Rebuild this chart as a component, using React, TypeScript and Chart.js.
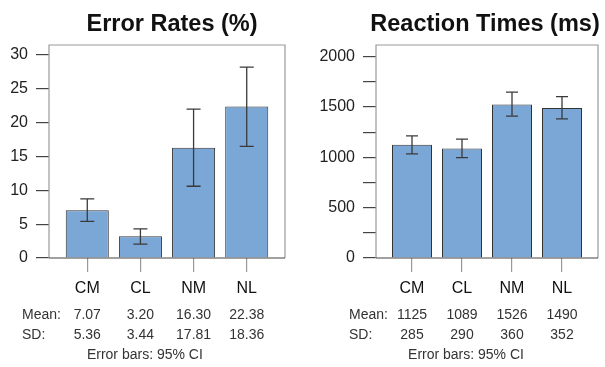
import React, { useEffect, useRef } from "react";
import { Chart, registerables } from "chart.js";

Chart.register(...registerables);

const categories = ["CM", "CL", "NM", "NL"];

const errorMeans = [7.07, 3.2, 16.3, 22.38];
const errorSD = [5.36, 3.44, 17.81, 18.36];
const errorLower = [5.4, 2.06, 10.6, 16.5];
const errorUpper = [8.75, 4.3, 22.0, 28.2];
const errorTicks = [0, 5, 10, 15, 20, 25, 30];

const rtMeans = [1125, 1089, 1526, 1490];
const rtSD = [285, 290, 360, 352];
const rtLower = [1035, 998, 1409, 1382];
const rtUpper = [1213, 1180, 1647, 1604];
const rtTicks = [0, 250, 500, 750, 1000, 1250, 1500, 1750, 2000];
const rtLabelStep = 500;

const FONT = "'Liberation Sans', Arial, Helvetica, sans-serif";

type PanelProps = {
  title: string;
  means: number[];
  sds: number[];
  lower: number[];
  upper: number[];
  ticks: number[];
  labelStep: number;
  yMax: number;
  decimals: number;
  width: number;
  height: number;
  leftW: number;
  rightPad: number;
  capHalf: number;
  barPct: number;
  titleDx: number;
};

function Panel(p: PanelProps) {
  const ref = useRef<HTMLCanvasElement | null>(null);
  useEffect(() => {
    if (!ref.current) return;
    const overlay = {
      id: "overlay",
      afterDatasetsDraw(chart: any) {
        const ctx = chart.ctx;
        const xs = chart.scales.x;
        const ys = chart.scales.y;
        const ca = chart.chartArea;
        ctx.save();
        ctx.strokeStyle = "#3a3a3a";
        ctx.lineWidth = 1.3;
        for (let i = 0; i < p.means.length; i++) {
          const x = xs.getPixelForValue(i);
          const yl = ys.getPixelForValue(p.lower[i]);
          const yu = ys.getPixelForValue(p.upper[i]);
          ctx.beginPath();
          ctx.moveTo(x, yl);
          ctx.lineTo(x, yu);
          ctx.moveTo(x - p.capHalf, yl);
          ctx.lineTo(x + p.capHalf, yl);
          ctx.moveTo(x - p.capHalf, yu);
          ctx.lineTo(x + p.capHalf, yu);
          ctx.stroke();
        }
        ctx.strokeStyle = "#9a9a9a";
        ctx.lineWidth = 1.2;
        ctx.beginPath();
        ctx.moveTo(ca.left, ca.bottom);
        ctx.lineTo(ca.left, ca.top);
        ctx.lineTo(ca.right, ca.top);
        ctx.lineTo(ca.right, ca.bottom);
        ctx.stroke();
        ctx.strokeStyle = "#444";
        ctx.beginPath();
        ctx.moveTo(ca.left, ca.bottom);
        ctx.lineTo(ca.right, ca.bottom);
        ctx.stroke();
        ctx.restore();
      },
      afterDraw(chart: any) {
        const ctx = chart.ctx;
        const xs = chart.scales.x;
        const ca = chart.chartArea;
        ctx.save();
        ctx.fillStyle = "#111";
        ctx.font = `bold 23.5px ${FONT}`;
        ctx.textAlign = "center";
        ctx.textBaseline = "alphabetic";
        ctx.fillText(p.title, (ca.left + ca.right) / 2 + p.titleDx, 31);
        ctx.font = `14px ${FONT}`;
        ctx.fillStyle = "#333";
        const labelX = ca.left - 27;
        ctx.textAlign = "left";
        ctx.fillText("Mean:", labelX, 319);
        ctx.fillText("SD:", labelX, 339);
        ctx.textAlign = "center";
        for (let i = 0; i < p.means.length; i++) {
          const x = xs.getPixelForValue(i);
          ctx.fillText(p.means[i].toFixed(p.decimals), x, 319);
          ctx.fillText(p.sds[i].toFixed(p.decimals), x, 339);
        }
        const lastRight = xs.getPixelForValue(p.means.length - 1) + 21;
        ctx.fillText("Error bars: 95% CI", (labelX + lastRight) / 2, 359);
        ctx.restore();
      },
    };
    const chart = new Chart(ref.current, {
      type: "bar",
      data: {
        datasets: [
          {
            data: p.means.map((v, i) => ({ x: i, y: v })),
            backgroundColor: "#7ba7d6",
            borderColor: "#333",
            borderWidth: 1,
            barPercentage: p.barPct,
            categoryPercentage: 1,
          },
        ],
      },
      options: {
        responsive: false,
        animation: false,
        layout: { padding: { top: 45, right: p.rightPad, left: 0, bottom: 0 } },
        plugins: { legend: { display: false }, tooltip: { enabled: false }, title: { display: false } },
        scales: {
          x: {
            type: "linear",
            min: -0.72,
            max: 3.72,
            offset: false,
            afterBuildTicks: (s: any) => {
              s.ticks = categories.map((_, i) => ({ value: i }));
            },
            afterFit: (s: any) => {
              s.height = p.height - 258;
            },
            ticks: {
              callback: (v: any) => categories[v as number] ?? "",
              font: { family: FONT, size: 16 },
              color: "#111",
              padding: 7,
              maxRotation: 0,
              autoSkip: false,
            },
            grid: { offset: false, drawOnChartArea: false, drawTicks: true, tickLength: 14, color: "#999", lineWidth: 1.2 },
            border: { display: false },
          },
          y: {
            min: 0,
            max: p.yMax,
            afterBuildTicks: (s: any) => {
              s.ticks = p.ticks.map((v) => ({ value: v }));
            },
            afterFit: (s: any) => {
              s.width = p.leftW;
            },
            ticks: {
              callback: (v: any) => ((v as number) % p.labelStep === 0 ? String(v) : ""),
              font: { family: FONT, size: 16 },
              color: "#222",
              padding: 8,
              autoSkip: false,
            },
            grid: { drawOnChartArea: false, drawTicks: true, tickLength: 13, color: "#444", lineWidth: 1.2 },
            border: { display: false },
          },
        },
      },
      plugins: [overlay],
    } as any);
    return () => chart.destroy();
  }, []);
  return <canvas ref={ref} width={p.width} height={p.height} style={{ display: "block" }} />;
}

export default function App() {
  return (
    <div style={{ position: "fixed", left: 0, top: 0, display: "flex", background: "#fff" }}>
      <Panel
        title="Error Rates (%)"
        means={errorMeans}
        sds={errorSD}
        lower={errorLower}
        upper={errorUpper}
        ticks={errorTicks}
        labelStep={5}
        yMax={31.47}
        decimals={2}
        width={300}
        height={367}
        leftW={49}
        rightPad={15}
        capHalf={7}
        barPct={0.81}
        titleDx={5}
      />
      <Panel
        title="Reaction Times (ms)"
        means={rtMeans}
        sds={rtSD}
        lower={rtLower}
        upper={rtUpper}
        ticks={rtTicks}
        labelStep={rtLabelStep}
        yMax={2116}
        decimals={0}
        width={305}
        height={367}
        leftW={76}
        rightPad={7}
        capHalf={6}
        barPct={0.8}
        titleDx={-2}
      />
    </div>
  );
}
